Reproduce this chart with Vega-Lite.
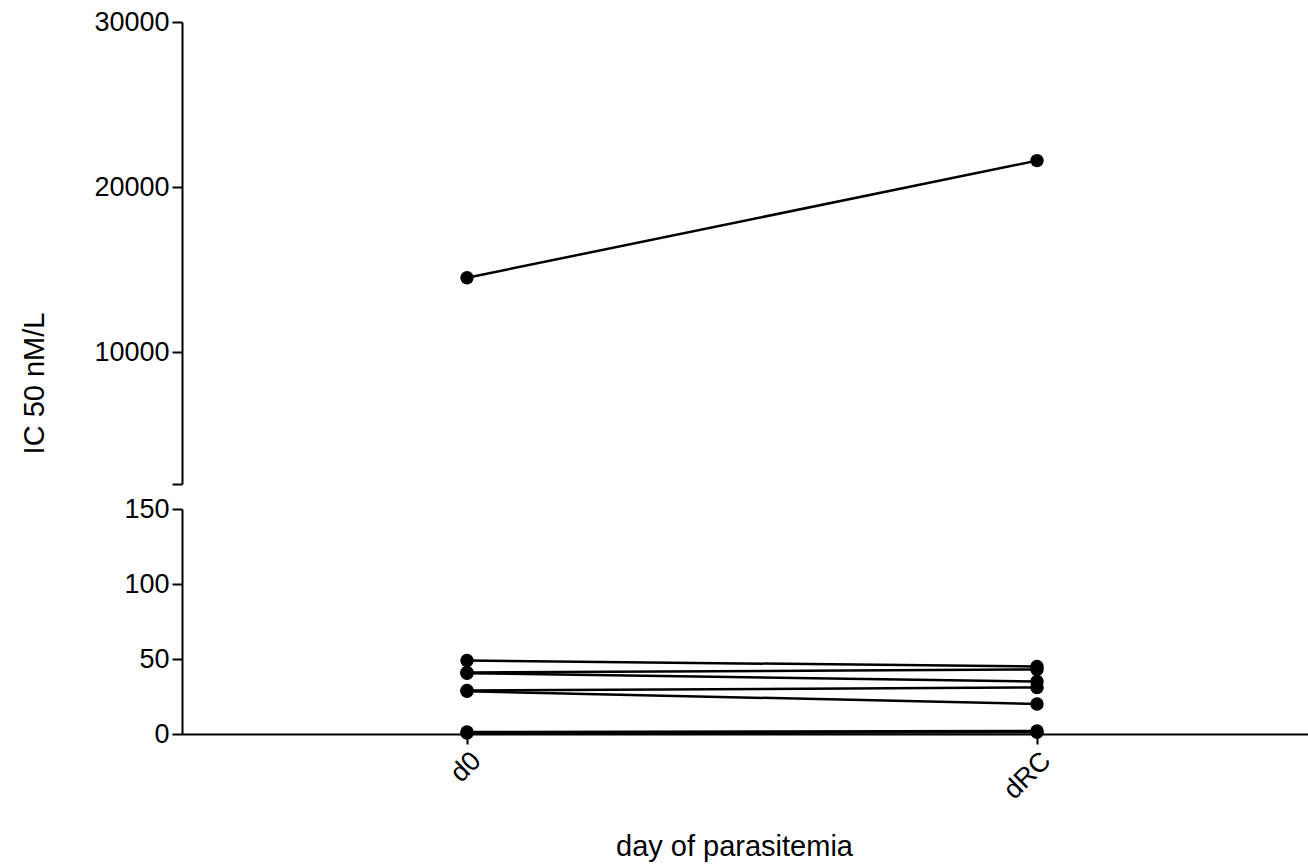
{
  "$schema": "https://vega.github.io/schema/vega-lite/v6.json",
  "background": "white",
  "padding": {"left": 20, "top": 8, "right": 0, "bottom": 5},
  "config": {
    "view": {"stroke": null},
    "font": "Liberation Sans",
    "axis": {
      "grid": false,
      "domainColor": "black",
      "domainWidth": 2,
      "tickColor": "black",
      "tickWidth": 2,
      "tickSize": 10,
      "labelColor": "black",
      "labelFont": "Liberation Sans",
      "labelFontSize": 27,
      "labelPadding": 3,
      "titleColor": "black",
      "titleFont": "Liberation Sans",
      "titleFontSize": 29,
      "titleFontWeight": "normal"
    }
  },
  "datasets": {
    "ic50": [
      {"patient": "P1", "day": "d0", "ic50": 14500},
      {"patient": "P1", "day": "dRC", "ic50": 21600},
      {"patient": "P2", "day": "d0", "ic50": 49},
      {"patient": "P2", "day": "dRC", "ic50": 45},
      {"patient": "P3", "day": "d0", "ic50": 41},
      {"patient": "P3", "day": "dRC", "ic50": 43},
      {"patient": "P4", "day": "d0", "ic50": 40.5},
      {"patient": "P4", "day": "dRC", "ic50": 35},
      {"patient": "P5", "day": "d0", "ic50": 29},
      {"patient": "P5", "day": "dRC", "ic50": 31},
      {"patient": "P6", "day": "d0", "ic50": 28.5},
      {"patient": "P6", "day": "dRC", "ic50": 20},
      {"patient": "P7", "day": "d0", "ic50": 1.3},
      {"patient": "P7", "day": "dRC", "ic50": 2},
      {"patient": "P8", "day": "d0", "ic50": 0.6},
      {"patient": "P8", "day": "dRC", "ic50": 1.2}
    ]
  },
  "spacing": 25,
  "bounds": "flush",
  "vconcat": [
    {
      "width": 1140,
      "height": 462,
      "data": {"name": "ic50"},
      "transform": [{"filter": "datum.ic50 > 1000"}],
      "encoding": {
        "x": {"field": "day", "type": "ordinal", "scale": {"type": "point", "padding": 0.5, "domain": ["d0", "dRC"]}, "axis": null},
        "y": {
          "field": "ic50", "type": "quantitative",
          "scale": {"domain": [2000, 30000], "nice": false, "zero": false},
          "axis": {
            "title": "IC 50 nM/L",
            "values": [2000, 10000, 20000, 30000],
            "labelExpr": "datum.value < 5000 ? '' : datum.label",
            "format": "d",
            "titleY": 361,
            "titlePadding": 44
          }
        },
        "detail": {"field": "patient"}
      },
      "layer": [
        {"mark": {"type": "line", "color": "black", "strokeWidth": 2.5}},
        {"mark": {"type": "point", "filled": true, "color": "black", "opacity": 1, "size": 180}}
      ]
    },
    {
      "width": 1140,
      "height": 225,
      "data": {"name": "ic50"},
      "transform": [{"filter": "datum.ic50 <= 150"}],
      "encoding": {
        "x": {
          "field": "day", "type": "ordinal",
          "scale": {"type": "point", "padding": 0.5, "domain": ["d0", "dRC"]},
          "axis": {"title": "day of parasitemia", "labelAngle": -45, "titlePadding": 29, "titleX": 552}
        },
        "y": {
          "field": "ic50", "type": "quantitative",
          "scale": {"domain": [0, 150], "nice": false},
          "axis": {"title": null, "values": [0, 50, 100, 150]}
        },
        "detail": {"field": "patient"}
      },
      "layer": [
        {"mark": {"type": "line", "color": "black", "strokeWidth": 2.5}},
        {"mark": {"type": "point", "filled": true, "color": "black", "opacity": 1, "size": 180}}
      ]
    }
  ]
}
